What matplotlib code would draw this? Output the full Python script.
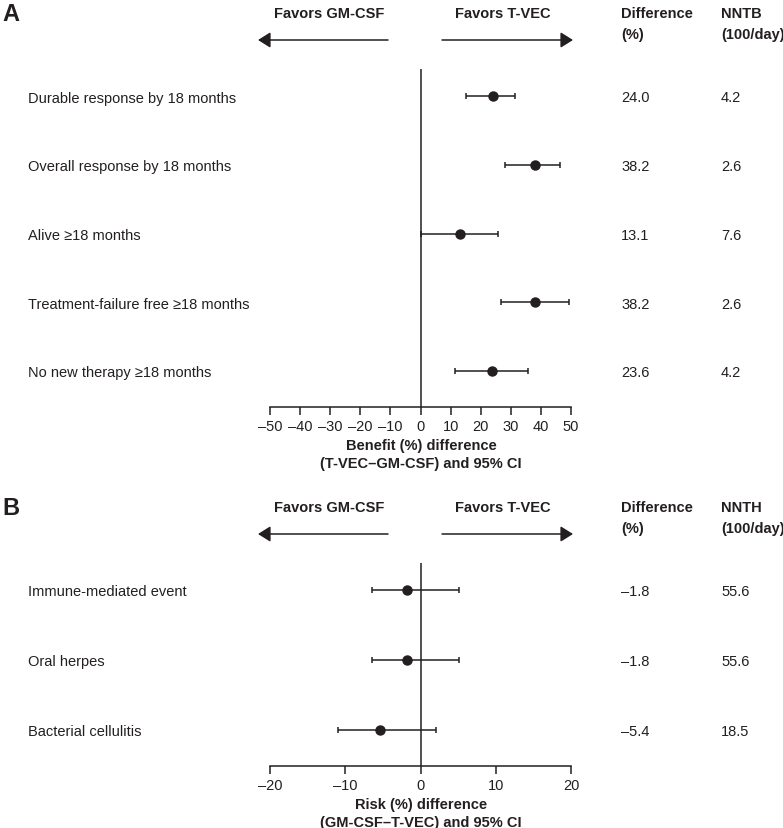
import matplotlib
matplotlib.use('Agg')
import matplotlib.pyplot as plt
import matplotlib.transforms as mtransforms
from matplotlib.patches import FancyArrowPatch

plt.rcParams['font.family'] = ['Liberation Sans', 'DejaVu Sans']

INK = '#231f20'
W, H = 783, 829
FS = 10.5

# panel A: benefit
benefit_labels = ['Durable response by 18 months', 'Overall response by 18 months',
                  'Alive \u226518 months', 'Treatment-failure free \u226518 months',
                  'No new therapy \u226518 months']
benefit_est = [24.0, 38.2, 13.1, 38.2, 23.6]
benefit_lo = [15.2, 28.1, 0.1, 26.7, 11.5]
benefit_hi = [31.5, 46.3, 25.6, 49.4, 35.6]
benefit_diff = ['24.0', '38.2', '13.1', '38.2', '23.6']
benefit_nnt = ['4.2', '2.6', '7.6', '2.6', '4.2']
benefit_ticks = [-50, -40, -30, -20, -10, 0, 10, 20, 30, 40, 50]

# panel B: risk
risk_labels = ['Immune-mediated event', 'Oral herpes', 'Bacterial cellulitis']
risk_est = [-1.8, -1.8, -5.4]
risk_lo = [-6.4, -6.4, -11.0]
risk_hi = [5.1, 5.1, 2.0]
risk_diff = ['\u20131.8', '\u20131.8', '\u20135.4']
risk_nnt = ['55.6', '55.6', '18.5']
risk_ticks = [-20, -10, 0, 10, 20]


def fx(x):
    return x / W


def fy(y):
    return 1 - y / H


def arrow(fig, x0, x1, y):
    a = FancyArrowPatch((fx(x0), fy(y)), (fx(x1), fy(y)), transform=fig.transFigure,
                        arrowstyle='-|>,head_length=0.75,head_width=0.47',
                        mutation_scale=10, lw=1.1, color=INK,
                        shrinkA=0, shrinkB=0)
    fig.add_artist(a)


def panel(fig, top, letter, labels, est, lo, hi, diff, nnt, ticks, nn_head, xlabel, step):
    # top = y (px) of the "Favors" line
    vtop = top + 57
    row0 = top + 84
    n = len(labels)
    last = row0 + step * (n - 1)
    axis_y = last + 36
    ax = fig.add_axes([fx(270), fy(axis_y), fx(571) - fx(270), (axis_y - vtop) / H])
    ys = list(range(n))
    xerr = [[e - l for e, l in zip(est, lo)], [h - e for e, h in zip(est, hi)]]
    ax.errorbar(est, ys, xerr=xerr, fmt='o', color=INK, ms=6.5, capsize=2.5,
                elinewidth=1.1, capthick=1.1)
    ax.axvline(0, color=INK, lw=1.1)
    ax.set_xlim(ticks[0], ticks[-1])
    ax.set_ylim(n - 1 + (axis_y - last) / step, -(row0 - vtop) / step)
    for s in ['left', 'top', 'right']:
        ax.spines[s].set_visible(False)
    ax.spines['bottom'].set_linewidth(1.1)
    ax.spines['bottom'].set_color(INK)
    ax.set_yticks([])
    ax.set_xticks(ticks)
    ax.set_xticklabels([str(t).replace('-', '\u2013') for t in ticks])
    ax.tick_params(axis='x', direction='out', length=6, width=1.1, color=INK,
                   labelsize=FS, labelcolor=INK, pad=3)
    ax.patch.set_visible(False)

    tr = mtransforms.blended_transform_factory(fig.transFigure, ax.transData)
    for i in range(n):
        ax.text(fx(28), i, labels[i], transform=tr, fontsize=FS, color=INK,
                ha='left', va='center_baseline')
        ax.text(fx(621), i, diff[i], transform=tr, fontsize=FS, color=INK,
                ha='left', va='center_baseline')
        ax.text(fx(721), i, nnt[i], transform=tr, fontsize=FS, color=INK,
                ha='left', va='center_baseline')

    fig.text(fx(2), fy(top - 1), letter, fontsize=17, fontweight='bold', color=INK,
             ha='left', va='center_baseline')
    fig.text(fx(329), fy(top), 'Favors GM-CSF', fontsize=FS, fontweight='bold',
             color=INK, ha='center', va='center_baseline')
    fig.text(fx(503), fy(top), 'Favors T-VEC', fontsize=FS, fontweight='bold',
             color=INK, ha='center', va='center_baseline')
    fig.text(fx(621), fy(top), 'Difference', fontsize=FS, fontweight='bold',
             color=INK, ha='left', va='center_baseline')
    fig.text(fx(621), fy(top + 20), '(%)', fontsize=FS, fontweight='bold',
             color=INK, ha='left', va='center_baseline')
    fig.text(fx(721), fy(top), nn_head, fontsize=FS, fontweight='bold',
             color=INK, ha='left', va='center_baseline')
    fig.text(fx(721), fy(top + 20), '(100/day)', fontsize=FS, fontweight='bold',
             color=INK, ha='left', va='center_baseline')
    arrow(fig, 388, 258, top + 28)
    arrow(fig, 442, 573, top + 28)

    fig.text(fx(421), fy(axis_y + 37), xlabel[0], fontsize=FS, fontweight='bold',
             color=INK, ha='center', va='center_baseline')
    fig.text(fx(421), fy(axis_y + 55), xlabel[1], fontsize=FS, fontweight='bold',
             color=INK, ha='center', va='center_baseline')
    return ax


fig = plt.figure(figsize=(W / 100, H / 100), dpi=100)
fig.patch.set_facecolor('white')

panel(fig, 13, 'A', benefit_labels, benefit_est, benefit_lo, benefit_hi,
      benefit_diff, benefit_nnt, benefit_ticks, 'NNTB',
      ['Benefit (%) difference', '(T-VEC\u2013GM-CSF) and 95% CI'], 68.75)
panel(fig, 507, 'B', risk_labels, risk_est, risk_lo, risk_hi,
      risk_diff, risk_nnt, risk_ticks, 'NNTH',
      ['Risk (%) difference', '(GM-CSF\u2013T-VEC) and 95% CI'], 69.75)

fig.savefig('out.png', dpi=100)
